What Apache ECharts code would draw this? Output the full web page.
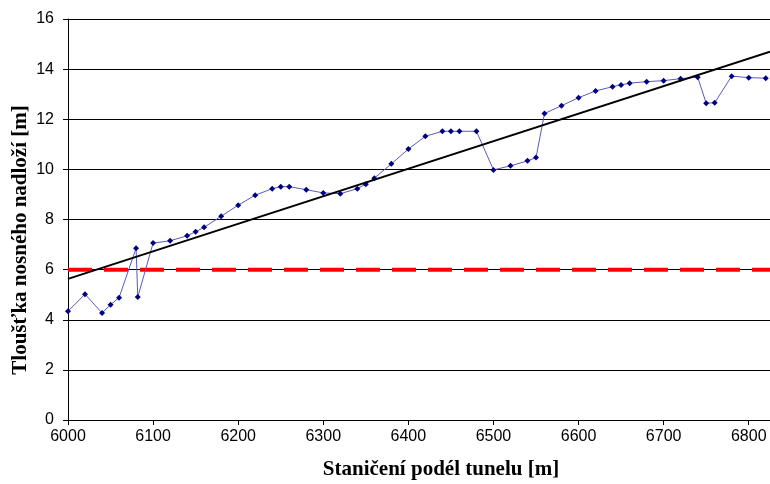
<!DOCTYPE html>
<html>
<head>
<meta charset="utf-8">
<script src="https://cdn.jsdelivr.net/npm/echarts@6/dist/echarts.min.js"></script>
<style>
html,body{margin:0;padding:0;background:#fff;}
#chart{width:770px;height:484px;}
</style>
</head>
<body>
<div id="chart"></div>
<script>
// Staničení [m]
const stations = [6000,6020,6040,6050,6060,6080,6082,6100,6120,6140,6150,6160,6180,6200,6220,6240,6250,6260,6280,6300,6320,6340,6350,6360,6380,6400,6420,6440,6450,6460,6480,6500,6520,6540,6550,6560,6580,6600,6620,6640,6650,6660,6680,6700,6720,6740,6750,6760,6780,6800,6820];
// Tloušťka nosného nadloží [m]
const thickness = [4.34,5.02,4.27,4.60,4.88,6.85,4.91,7.06,7.15,7.35,7.51,7.69,8.13,8.57,8.97,9.23,9.31,9.31,9.19,9.06,9.03,9.23,9.41,9.65,10.22,10.81,11.32,11.52,11.52,11.52,11.52,9.98,10.14,10.34,10.47,12.23,12.54,12.86,13.13,13.30,13.37,13.44,13.50,13.54,13.62,13.68,12.64,12.66,13.72,13.66,13.64];
// Linear trend endpoints
const trendX = [6000, 6825];
const trendY = [5.63, 14.70];
// Limit line
const limitX = [6000, 6825];
const limitY = [6, 6];
const xTicks = [6000,6100,6200,6300,6400,6500,6600,6700,6800];
const yTicks = [0,2,4,6,8,10,12,14,16];

const mainData = stations.map((s,i)=>[s, thickness[i]]);
const trendData = trendX.map((s,i)=>[s, trendY[i]]);
const limitData = limitX.map((s,i)=>[s, limitY[i]]);

const chart = echarts.init(document.getElementById('chart'), null, {renderer:'canvas'});
chart.setOption({
  animation:false,
  backgroundColor:'#fff',
  grid:{left:68, right:0, top:19, bottom:64, containLabel:false},
  xAxis:{
    type:'value', min:6000, max:6825, interval:100,
    axisLine:{show:true, lineStyle:{color:'#000', width:1}},
    axisTick:{show:true, length:5, lineStyle:{color:'#000'},
      customValues: xTicks},
    axisLabel:{color:'#000', fontFamily:'Liberation Sans, Arial', fontSize:16, margin:9,
      customValues: xTicks, formatter: v => String(v)},
    splitLine:{show:false}
  },
  yAxis:{
    type:'value', min:0, max:16, interval:2,
    axisLine:{show:true, lineStyle:{color:'#000', width:1}},
    axisTick:{show:true, length:5, lineStyle:{color:'#000'}, customValues: yTicks},
    axisLabel:{color:'#000', fontFamily:'Liberation Sans, Arial', fontSize:16, margin:14,
      customValues: yTicks, formatter: v => String(v)},
    splitLine:{show:true, lineStyle:{color:'#000', width:1}}
  },
  graphic:[
    {type:'text', x:441, y:470, style:{text:'Staničení podél tunelu [m]', font:'bold 21px "Liberation Serif", "Times New Roman", serif', fill:'#000', textAlign:'center', textVerticalAlign:'middle'}},
    {type:'text', x:21, y:240, rotation:Math.PI/2, style:{text:'Tloušťka nosného nadloží [m]', font:'bold 21px "Liberation Serif", "Times New Roman", serif', fill:'#000', textAlign:'center', textVerticalAlign:'middle'}}
  ],
  series:[
    {type:'line', data:limitData, symbol:'none', silent:true,
      lineStyle:{color:'#ff0000', width:4, type:[24,12]}, z:2},
    {type:'line', data:mainData, symbol:'diamond', symbolSize:6, showSymbol:true,
      lineStyle:{color:'#5a5abd', width:1}, itemStyle:{color:'#000080'}, z:3},
    {type:'line', data:trendData, symbol:'none',
      lineStyle:{color:'#000', width:2}, z:4}
  ]
});
</script>
</body>
</html>
